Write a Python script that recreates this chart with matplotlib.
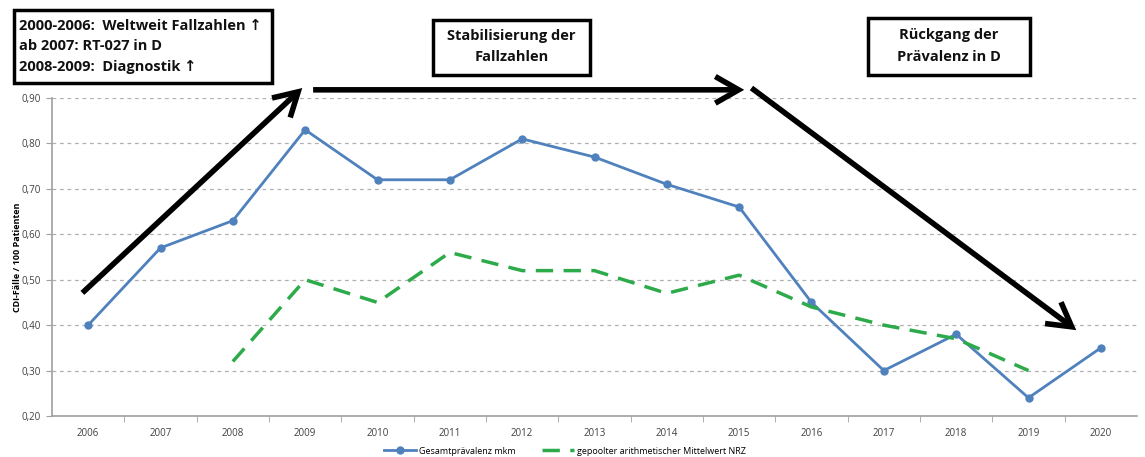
import matplotlib
matplotlib.use("Agg")
import matplotlib.pyplot as plt
from matplotlib.patches import FancyArrowPatch, Rectangle

years = ["2006", "2007", "2008", "2009", "2010", "2011", "2012", "2013",
         "2014", "2015", "2016", "2017", "2018", "2019", "2020"]
gesamt = [0.40, 0.57, 0.63, 0.83, 0.72, 0.72, 0.81, 0.77, 0.71, 0.66,
          0.45, 0.30, 0.38, 0.24, 0.35]
nrz_years = years[2:14]
nrz = [0.32, 0.50, 0.45, 0.56, 0.52, 0.52, 0.47, 0.51, 0.44, 0.40, 0.37, 0.30]
yticks = [0.20, 0.30, 0.40, 0.50, 0.60, 0.70, 0.80, 0.90]
ytick_labels = ["0,20", "0,30", "0,40", "0,50", "0,60", "0,70", "0,80", "0,90"]

plt.rcParams['font.family'] = ['Open Sans', 'DejaVu Sans']

W, H = 1145, 457
fig = plt.figure(figsize=(W / 100, H / 100), dpi=100)
ax = fig.add_axes([52 / W, 1 - 416 / H, (1137 - 52) / W, (416 - 98) / H])

x = list(range(len(years)))
xn = [years.index(y) for y in nrz_years]

ax.plot(x, gesamt, color="#4F81BD", lw=2, marker="o", ms=5,
        label="Gesamtprävalenz mkm", zorder=3)
ax.plot(xn, nrz, color="#2DAA4A", lw=2.5, ls=(0, (5, 3)),
        label="gepoolter arithmetischer Mittelwert NRZ", zorder=3)

ax.set_xlim(-0.5, len(years) - 0.5)
ax.set_ylim(0.2, 0.9)
ax.set_yticks(yticks)
ax.set_yticklabels(ytick_labels, fontsize=7, color="#404040")
ax.set_xticks(x)
ax.set_xticklabels(years, fontsize=7, color="#404040")
ax.set_xticks([i + 0.5 for i in x[:-1]], minor=True)
ax.tick_params(axis="x", which="major", length=0, pad=9)
ax.tick_params(axis="x", which="minor", length=4, color="#A0A0A0")
ax.tick_params(axis="y", length=4, color="#A0A0A0", pad=4)
ax.yaxis.grid(True, ls=(0, (3, 3)), color="#B0B0B0", lw=0.9)
ax.set_axisbelow(True)
for s in ["top", "right"]:
    ax.spines[s].set_visible(False)
for s in ["left", "bottom"]:
    ax.spines[s].set_color("#A0A0A0")
    ax.spines[s].set_linewidth(1.2)
ax.set_ylabel("CDI-Fälle / 100 Patienten", fontsize=6.5, fontweight="bold")
ax.yaxis.set_label_coords(-30 / (1137 - 52), 0.5)

leg = fig.legend(handles=ax.get_lines(), loc="center",
                 bbox_to_anchor=(565 / W, 1 - 451 / H), ncol=2,
                 frameon=False, fontsize=6.5, handlelength=3.5, columnspacing=3,
                 handletextpad=0.3, borderaxespad=0, borderpad=0)

# arrows
arrow_kw = dict(arrowstyle="->,head_length=1.4,head_width=0.8", lw=4,
                color="black", clip_on=False, mutation_scale=12,
                shrinkA=0, shrinkB=0, zorder=5, capstyle="butt",
                joinstyle="miter")
ax.add_patch(FancyArrowPatch((-0.08, 0.471), (2.96, 0.922), **arrow_kw))
ax.add_patch(FancyArrowPatch((3.11, 0.918), (9.07, 0.918), **arrow_kw))
ax.add_patch(FancyArrowPatch((9.17, 0.922), (13.66, 0.389), **arrow_kw))

# boxes
def box(x0, y0, x1, y1, lines, ha="center", ys=None):
    r = Rectangle((x0 / W, 1 - y1 / H), (x1 - x0) / W, (y1 - y0) / H,
                  transform=fig.transFigure, fill=True, facecolor="white",
                  edgecolor="black", lw=2.5, zorder=10)
    fig.add_artist(r)
    for t, yy in zip(lines, ys):
        xx = (x0 + x1) / 2 if ha == "center" else x0 + 5
        fig.text(xx / W, 1 - yy / H, t, ha=ha, va="center", fontsize=10.5,
                 fontweight="bold", zorder=11, color="#111111")

box(14, 10, 272, 83, ["2000-2006:  Weltweit Fallzahlen \u2191",
                      "ab 2007: RT-027 in D",
                      "2008-2009:  Diagnostik \u2191"], ha="left",
    ys=[26, 46, 67])
box(433, 20, 590, 75, ["Stabilisierung der", "Fallzahlen"], ys=[36, 57])
box(868, 18, 1030, 75, ["Rückgang der", "Prävalenz in D"], ys=[35, 57])

fig.savefig("out.png", dpi=100, facecolor="white")
